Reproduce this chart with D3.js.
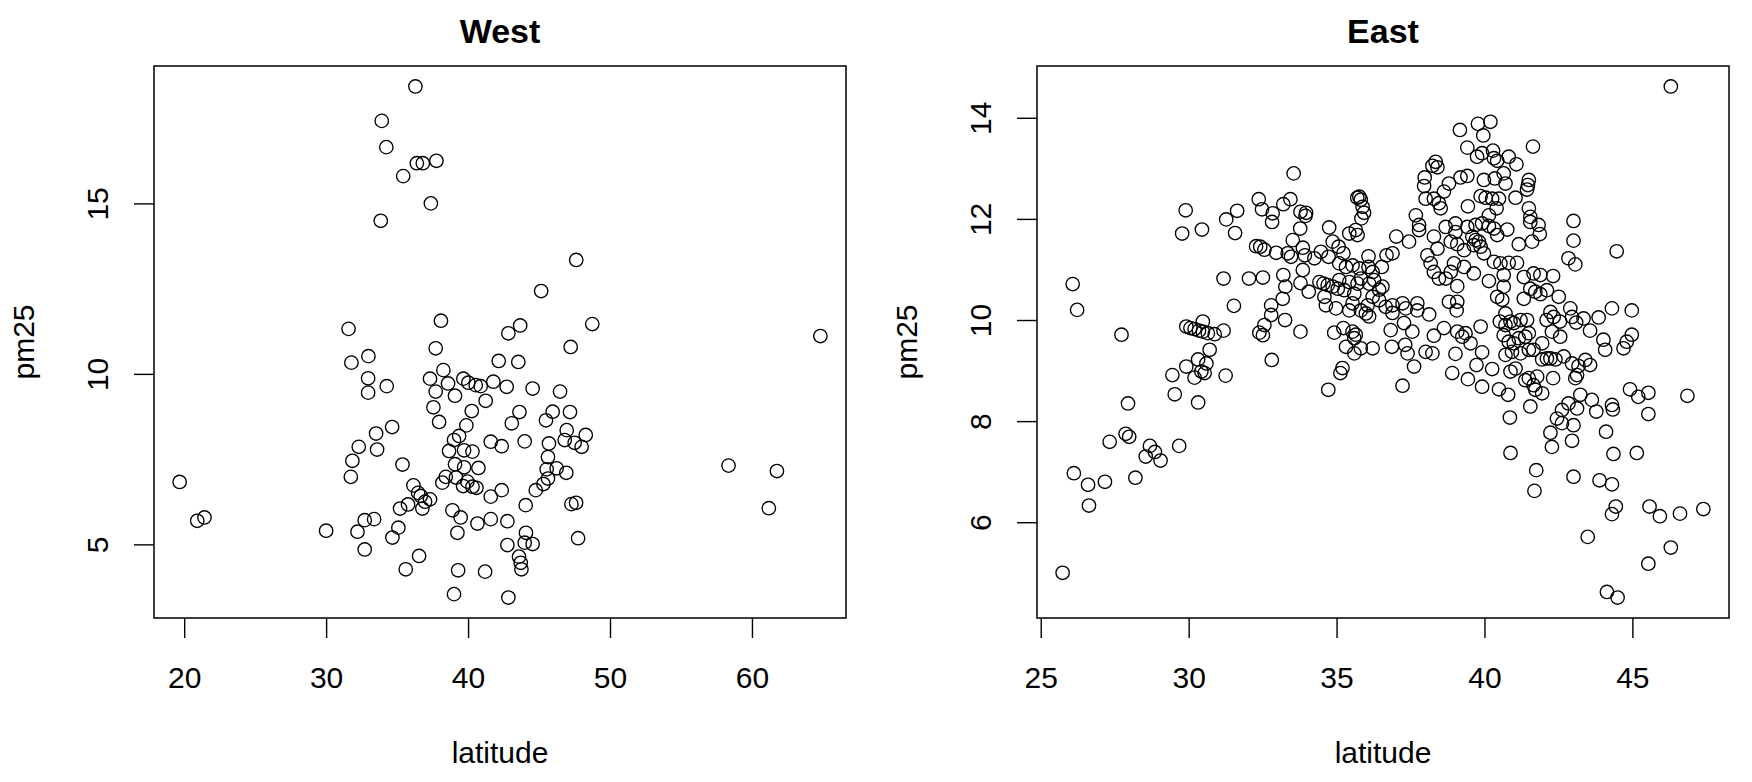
<!doctype html>
<html lang="en">
<head>
<meta charset="utf-8">
<title>pm25 by latitude, West and East</title>
<script src="https://d3js.org/d3.v7.min.js"></script>
<style>
  html, body { margin: 0; padding: 0; background: #fff; }
  svg { display: block; font-family: Helvetica, Arial, "Liberation Sans", sans-serif; }
</style>
</head>
<body>
<svg width="1752" height="782"></svg>
<script>
// values
var westLat = [
  36.29, 33.92, 34.24, 36.39, 36.81, 37.77, 35.43, 37.38, 33.85, 47.62,
  45.15, 31.58, 38.09, 43.67, 42.84, 48.75,
  37.72, 47.23, 31.78, 32.98, 38.26, 42.16, 43.54, 37.32, 32.96, 34.27,
  32.96, 38.59, 39.67, 40.02, 40.54, 40.89, 41.78, 42.72, 44.55, 46.48,
  37.72, 39.08, 41.24, 37.56, 40.26, 43.62, 45.96, 47.18, 45.49, 37.96,
  39.88, 43.08, 34.65, 33.52, 39.37, 39.01, 46.95, 48.29, 46.81, 47.51,
  48.00, 41.60, 42.37, 43.99, 45.70, 32.30, 33.59, 38.66, 39.72, 40.31,
  31.85, 35.38, 45.63, 39.08, 39.72, 40.73, 45.54, 46.24, 46.92, 31.74,
  38.43, 38.19, 39.15, 39.95, 39.65, 40.31, 40.59, 45.63, 45.31, 44.77,
  42.37, 36.15, 36.48, 36.67, 37.32, 36.97, 35.77, 35.21, 36.78, 41.60,
  44.06, 47.28, 47.61, 38.90, 39.48, 32.72, 33.38, 41.60, 40.66, 42.77,
  30.00, 32.21, 35.09, 34.67, 39.25, 44.08, 47.75, 32.72, 42.77, 43.99,
  44.55, 36.55, 43.59, 43.71, 43.76, 35.61, 39.30, 41.20, 39.01, 42.84,
  19.68, 20.92, 21.43, 58.35, 61.76, 61.19, 64.82
];
var westPm25 = [
  18.43, 17.42, 16.65, 16.18, 16.18, 16.25, 15.80, 15.00, 14.49, 13.34,
  12.43, 11.32, 11.56, 11.42, 11.19, 11.46,
  10.75, 10.79, 10.33, 10.52, 10.11, 10.38, 10.35, 9.86, 9.87, 9.64,
  9.45, 9.72, 9.86, 9.74, 9.67, 9.64, 9.77, 9.62, 9.57, 9.48,
  9.48, 9.36, 9.21, 9.02, 8.91, 8.88, 8.89, 8.88, 8.64, 8.59,
  8.49, 8.55, 8.44, 8.25, 8.18, 8.06, 8.35, 8.21, 8.06, 7.98,
  7.86, 8.01, 7.88, 8.02, 7.96, 7.86, 7.78, 7.74, 7.76, 7.72,
  7.45, 7.34, 7.56, 7.35, 7.26, 7.24, 7.20, 7.23, 7.10, 6.98,
  6.98, 6.81, 6.96, 6.84, 6.71, 6.69, 6.66, 6.93, 6.77, 6.59,
  6.59, 6.73, 6.51, 6.42, 6.32, 6.25, 6.17, 6.05, 6.05, 6.40,
  6.15, 6.18, 6.22, 6.00, 5.79, 5.71, 5.74, 5.74, 5.61, 5.68,
  5.40, 5.37, 5.49, 5.20, 5.34, 5.34, 5.18, 4.85, 4.98, 5.05,
  5.01, 4.66, 4.64, 4.46, 4.27, 4.27, 4.24, 4.20, 3.54, 3.44,
  6.83, 5.69, 5.79, 7.31, 7.15, 6.06, 11.11
];

var eastLat = [
  26.08, 26.23, 27.73, 27.95, 27.87, 27.99, 27.33, 26.12, 26.60, 27.17,
  26.63, 25.74, 28.20,
  33.55, 29.90, 29.78, 30.45, 31.27, 31.64, 31.57, 32.37, 32.48, 32.84,
  32.82, 33.20, 33.44, 33.78, 33.97, 33.95, 33.77, 35.77, 35.70, 35.82,
  35.88, 35.93, 35.84, 34.75, 35.43, 35.65, 35.71, 33.52, 32.28, 32.42,
  32.56, 32.96, 33.35, 33.46, 33.86, 33.93, 34.25, 34.47, 34.73, 34.87,
  35.07, 35.23, 35.09, 35.32, 35.54, 35.77, 36.08, 36.08, 36.22, 36.53,
  36.69, 36.89, 37.02, 37.45, 37.68, 33.86, 33.20, 33.27, 33.18, 32.79,
  31.18, 32.04, 32.51, 31.53, 33.78, 34.06, 34.42, 34.56, 34.70, 34.87,
  35.04, 35.09, 35.26, 35.43, 35.60, 35.71, 35.82, 36.10, 36.27, 36.44,
  36.55, 36.22, 36.44, 34.59, 34.64, 34.98, 35.43, 35.54, 35.82, 35.99,
  36.05, 36.66, 36.89, 37.23, 37.34, 36.89,
  29.92, 30.06, 30.20, 30.35, 30.48, 30.48, 30.65, 30.88, 31.18, 30.71,
  30.32, 29.92, 30.60, 30.43, 30.54, 30.20, 29.45, 31.25, 29.53, 30.32,
  32.79, 32.56, 32.39, 32.51, 33.26, 33.78, 32.81, 28.69, 28.86, 28.55,
  29.05, 29.68, 34.92, 35.23, 35.54, 35.65, 35.60, 35.32, 35.60, 35.82,
  36.22, 35.20, 35.13, 34.72, 36.83, 36.87, 37.32, 37.40, 37.62, 37.23,
  37.56, 37.28, 36.10,
  39.17, 39.78, 40.20, 39.96, 41.64, 39.42, 39.75, 39.92, 40.29, 40.32,
  40.43, 40.82, 41.08, 38.35, 38.24, 38.41, 37.98, 37.96, 39.19, 39.42,
  39.98, 40.35, 40.71, 40.65, 38.80, 38.63, 41.50, 41.47, 41.44, 38.01,
  38.29, 38.46, 38.52, 39.87, 40.04, 40.26, 40.49, 41.05, 39.44, 40.41,
  41.50, 41.55, 41.55, 41.83, 41.87, 43.01, 43.01, 42.84, 43.07, 44.47,
  40.15, 37.79, 37.79, 38.29, 38.69, 39.02, 39.02, 39.42, 39.70, 39.92,
  40.15, 40.32, 40.77, 40.43, 39.59, 39.70, 39.81, 39.64, 39.87, 38.86,
  39.08, 39.31, 38.41, 41.16, 41.61, 38.07, 38.18, 38.29, 38.46, 38.69,
  38.86, 38.97, 39.31, 39.64, 39.98, 40.32, 40.54, 40.82, 41.10, 40.65,
  40.15, 41.33, 41.66, 41.89, 42.32, 39.08, 40.65, 41.55, 41.72, 41.89,
  42.11, 42.51, 40.43, 40.60, 41.33, 38.80, 39.08, 39.06, 37.73, 37.73,
  38.13, 44.31, 44.98, 42.23, 42.90, 40.71, 42.34, 42.96, 43.35, 42.10,
  42.55, 43.10,
  38.29, 38.63, 39.08, 39.25, 39.36, 39.53, 39.87, 38.01, 38.24, 39.02,
  39.92, 39.73, 40.26, 38.91, 39.44, 39.92, 40.49, 40.80, 40.52, 40.71,
  40.88, 40.99, 41.22, 41.44, 40.65, 40.82, 40.99, 41.16, 41.38, 41.50,
  40.71, 40.93, 41.22, 41.50, 41.66, 41.95, 40.88, 41.05, 41.38, 41.50,
  41.78, 41.66, 41.95, 41.72, 41.95, 42.11, 42.23, 42.40, 42.68, 42.96,
  43.18, 43.41, 43.57, 43.07, 43.13, 42.32, 42.28, 42.56, 43.57, 43.86,
  44.02, 44.08, 44.70, 44.81, 44.98, 41.55, 40.86, 42.62, 42.84, 43.13,
  43.24, 43.63, 43.78, 42.45, 42.62, 43.01, 42.23, 42.96, 42.28, 44.31,
  44.34, 44.92, 45.20, 45.54, 45.54, 44.11, 40.88, 41.75, 41.69, 43.01,
  43.89, 44.31, 44.36, 45.15, 44.44, 44.31, 45.58, 45.93, 43.49, 45.54,
  44.14, 44.50,
  46.30, 46.86, 46.61, 47.40, 46.30
];
var eastPm25 = [
  10.71, 10.20, 9.71, 8.35, 7.75, 7.69, 7.59, 6.97, 6.74, 6.80,
  6.33, 5.00, 6.88,
  12.90, 12.17, 11.71, 11.79, 11.99, 12.16, 11.72, 12.39, 12.19, 12.11,
  11.94, 12.29, 12.39, 12.14, 12.12, 12.06, 11.81, 12.44, 12.42, 12.38,
  12.24, 12.12, 12.01, 11.83, 11.71, 11.78, 11.68, 11.58, 11.46, 11.45,
  11.39, 11.33, 11.32, 11.25, 11.43, 11.28, 11.22, 11.35, 11.25, 11.55,
  11.45, 11.32, 11.12, 11.05, 11.08, 11.02, 11.26, 11.05, 10.95, 11.05,
  11.28, 11.32, 11.65, 11.55, 12.07, 10.99, 10.89, 10.66, 10.42, 10.29,
  10.82, 10.82, 10.84, 10.28, 10.73, 10.56, 10.75, 10.72, 10.69, 10.66,
  10.62, 10.79, 10.59, 10.75, 10.52, 10.72, 10.82, 10.72, 10.79, 10.60,
  10.66, 10.46, 10.39, 10.46, 10.29, 10.23, 10.19, 10.33, 10.19, 10.13,
  10.29, 10.26, 10.29, 10.33, 10.23, 10.14,
  9.87, 9.84, 9.82, 9.79, 9.77, 9.97, 9.74, 9.72, 9.79, 9.41,
  9.22, 9.08, 9.14, 8.98, 8.95, 8.86, 8.91, 8.90, 8.53, 8.37,
  10.10, 9.90, 9.75, 9.70, 10.00, 9.77, 9.21, 7.51, 7.39, 7.30,
  7.22, 7.51, 9.75, 9.84, 9.77, 9.71, 9.64, 9.47, 9.34, 9.44,
  9.44, 9.05, 8.95, 8.62, 9.80, 9.47, 9.51, 9.34, 9.08, 8.70,
  9.77, 9.94, 10.07,
  13.76, 13.88, 13.92, 13.65, 13.43, 13.41, 13.23, 13.30, 13.35, 13.20,
  13.15, 13.23, 13.08, 13.13, 13.05, 13.02, 12.82, 12.65, 12.82, 12.85,
  12.77, 12.80, 12.70, 12.90, 12.70, 12.54, 12.77, 12.67, 12.58, 12.40,
  12.40, 12.31, 12.21, 12.45, 12.42, 12.40, 12.40, 12.42, 12.25, 12.21,
  12.21, 12.04, 11.94, 11.88, 11.70, 11.96, 11.57, 11.22, 11.10, 11.36,
  12.07, 11.88, 11.78, 11.65, 11.84, 11.91, 11.74, 11.84, 11.88, 11.91,
  11.86, 11.81, 11.79, 11.68, 11.65, 11.58, 11.55, 11.48, 11.45, 11.55,
  11.50, 11.38, 11.41, 11.50, 11.55, 11.28, 11.12, 10.95, 10.82, 10.82,
  10.95, 11.12, 11.05, 10.92, 11.32, 11.15, 11.12, 11.13, 11.13, 10.89,
  10.77, 10.85, 10.92, 10.89, 10.87, 10.67, 10.66, 10.62, 10.56, 10.51,
  10.59, 10.46, 10.46, 10.40, 10.42, 10.36, 10.36, 10.19, 10.33, 10.19,
  10.11, 10.23, 10.19, 10.16, 10.23, 10.13, 10.06, 10.06, 10.03, 10.00,
  9.97, 9.95,
  9.69, 9.84, 9.77, 9.67, 9.74, 9.54, 9.87, 9.37, 9.34, 9.33,
  9.36, 9.11, 9.03, 8.95, 8.83, 8.68, 8.63, 8.52, 9.97, 9.90,
  9.97, 9.94, 10.00, 10.00, 9.70, 9.57, 9.54, 9.64, 9.67, 9.74,
  9.31, 9.37, 9.34, 9.41, 9.41, 9.54, 8.98, 9.04, 8.81, 8.85,
  8.88, 8.71, 8.55, 8.62, 9.22, 9.24, 9.24, 9.22, 9.28, 9.14,
  9.09, 9.21, 9.11, 8.85, 8.91, 8.85, 9.77, 9.67, 9.79, 10.05,
  9.61, 9.41, 9.44, 9.57, 9.71, 8.29, 8.07, 8.22, 8.35, 8.25,
  8.52, 8.42, 8.19, 8.05, 7.96, 7.92, 7.77, 7.61, 7.49, 8.32,
  8.23, 8.63, 8.48, 8.56, 8.14, 7.79, 7.37, 7.03, 6.62, 6.90,
  6.83, 6.75, 7.35, 7.37, 6.31, 6.16, 6.31, 6.12, 5.71, 5.18,
  4.62, 4.51,
  14.62, 8.50, 6.17, 6.26, 5.50
];

var westLatTicks = [20, 30, 40, 50, 60];
var westPmTicks = [5, 10, 15];
var eastLatTicks = [25, 30, 35, 40, 45];
var eastPmTicks = [6, 8, 10, 12, 14];

var svg = d3.select('svg');

var boxTop = 66, boxBottom = 618, boxWidth = 692;

// same 4% widening that R uses for plot limits
var padded = function(vals){
  var e = d3.extent(vals), r = e[1] - e[0];
  return [e[0] - 0.04 * r, e[1] + 0.04 * r];
};

var drawPanel = function(left, title, lat, pm, latTicks, pmTicks){
  var x = d3.scaleLinear().domain(padded(lat)).range([left, left + boxWidth]);
  var y = d3.scaleLinear().domain(padded(pm)).range([boxBottom, boxTop]);
  var g = svg.append('g');

  var pts = d3.range(lat.length).map(function(i){ return [lat[i], pm[i]]; });
  g.selectAll('circle').data(pts).enter()
    .append('circle')
      .attr('cx', function(d){ return x(d[0]); })
      .attr('cy', function(d){ return y(d[1]); })
      .attr('r', 6.7)
      .style('fill', 'none')
      .style('stroke', '#000')
      .style('stroke-width', 1.35);

  var xAxis = g.append('g')
    .attr('transform', 'translate(0,' + boxBottom + ')')
    .call(d3.axisBottom(x).tickValues(latTicks).tickSize(20).tickSizeOuter(0).tickPadding(29));
  xAxis.select('.domain').remove();
  xAxis.selectAll('line').style('stroke-width', 1.4);
  xAxis.selectAll('text').style('font-size', '30px').style('fill', '#000');

  var yAxis = g.append('g')
    .attr('transform', 'translate(' + left + ',0)')
    .call(d3.axisLeft(y).tickValues(pmTicks).tickSize(20).tickSizeOuter(0));
  yAxis.select('.domain').remove();
  yAxis.selectAll('line').style('stroke-width', 1.4);
  yAxis.selectAll('text')
    .attr('x', null).attr('dy', null)
    .attr('transform', 'translate(-46,0) rotate(-90)')
    .attr('text-anchor', 'middle')
    .style('font-size', '30px').style('fill', '#000');

  g.append('rect')
    .attr('x', left).attr('y', boxTop)
    .attr('width', boxWidth).attr('height', boxBottom - boxTop)
    .style('fill', 'none').style('stroke', '#000').style('stroke-width', 1.5);

  var mid = left + boxWidth / 2;
  g.append('text').text(title)
    .attr('x', mid).attr('y', 43)
    .attr('text-anchor', 'middle')
    .style('font-size', '34px').style('font-weight', 'bold');
  g.append('text').text('latitude')
    .attr('x', mid).attr('y', 763)
    .attr('text-anchor', 'middle')
    .style('font-size', '30px');
  g.append('text').text('pm25')
    .attr('transform', 'translate(' + (left - 120) + ',' + ((boxTop + boxBottom) / 2) + ') rotate(-90)')
    .attr('text-anchor', 'middle')
    .style('font-size', '30px');
};

drawPanel(154, 'West', westLat, westPm25, westLatTicks, westPmTicks);
drawPanel(1037, 'East', eastLat, eastPm25, eastLatTicks, eastPmTicks);
</script>
</body>
</html>
